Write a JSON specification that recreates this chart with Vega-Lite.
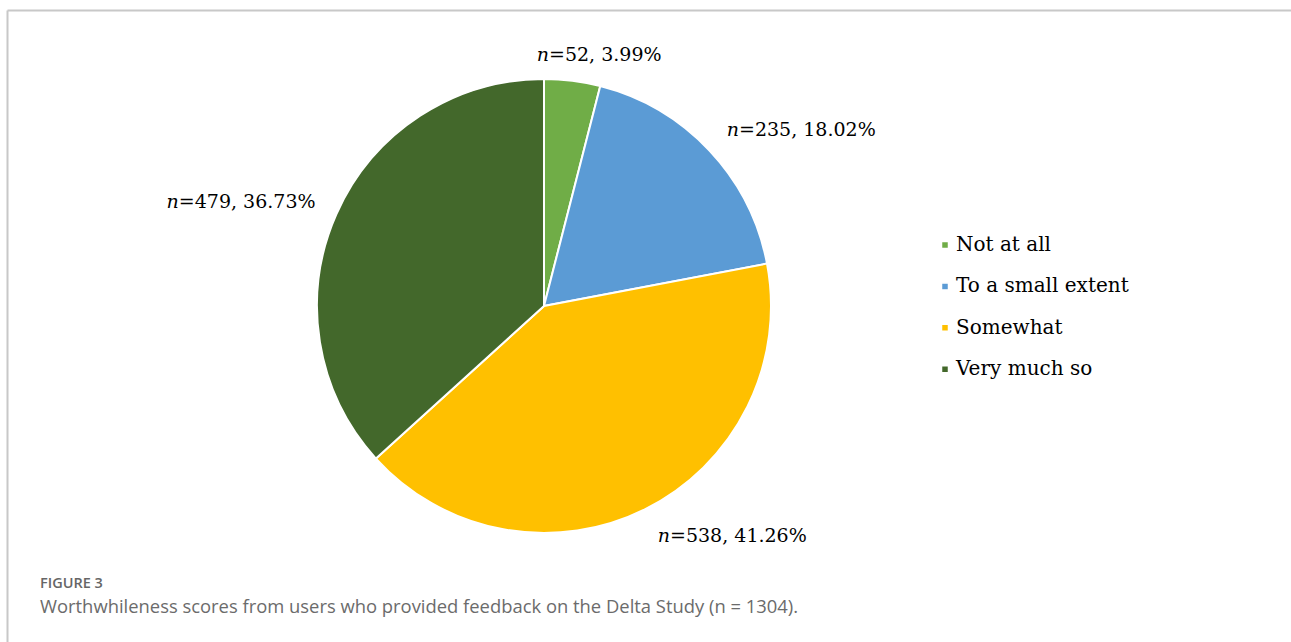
{
  "$schema": "https://vega.github.io/schema/vega-lite/v6.json",
  "width": 454,
  "height": 454,
  "autosize": {"type": "none"},
  "padding": {"left": 317, "top": 79, "right": 520, "bottom": 109},
  "background": "white",
  "config": {"view": {"stroke": null}},
  "title": {
    "text": "FIGURE 3",
    "subtitle": "Worthwhileness scores from users who provided feedback on the Delta Study (n = 1304).",
    "orient": "bottom",
    "anchor": "start",
    "frame": "group",
    "dx": -277,
    "offset": 0,
    "dy": -134,
    "baseline": "top",
    "font": "Open Sans",
    "fontSize": 14.5,
    "fontWeight": 600,
    "color": "#666666",
    "subtitleFont": "Open Sans",
    "subtitleFontSize": 18.4,
    "subtitleColor": "#6b6b6b",
    "subtitlePadding": 6
  },
  "data": {
    "values": [
      {"category": "Not at all", "n": 52, "rank": 1, "label": "=52, 3.99%"},
      {"category": "To a small extent", "n": 235, "rank": 2, "label": "=235, 18.02%"},
      {"category": "Somewhat", "n": 538, "rank": 3, "label": "=538, 41.26%"},
      {"category": "Very much so", "n": 479, "rank": 4, "label": "=479, 36.73%"}
    ]
  },
  "layer": [
    {
      "mark": {"type": "point", "opacity": 0},
      "encoding": {
        "x": {"datum": 0, "type": "quantitative", "scale": {"domain": [0, 1], "range": [-310, 974]},
              "axis": {"orient": "top", "offset": 69, "domainColor": "#c8c8c8", "domainWidth": 2, "ticks": false, "labels": false, "grid": false, "title": null}},
        "y": {"datum": 0, "type": "quantitative", "scale": {"domain": [0, 1], "range": [-69, 563]},
              "axis": {"orient": "left", "offset": 310, "domainColor": "#c8c8c8", "domainWidth": 2, "ticks": false, "labels": false, "grid": false, "title": null}}
      }
    },
    {
      "mark": {"type": "arc", "outerRadius": 227, "stroke": "white", "strokeWidth": 2},
      "encoding": {
        "theta": {"field": "n", "type": "quantitative", "stack": true},
        "order": {"field": "rank", "type": "quantitative"},
        "color": {
          "field": "category", "type": "nominal",
          "scale": {"domain": ["Not at all", "To a small extent", "Somewhat", "Very much so"],
                    "range": ["#70AD47", "#5B9BD5", "#FFC000", "#43682B"]},
          "legend": {"orient": "none", "legendX": 618, "legendY": 156, "title": null, "symbolType": "square", "symbolSize": 49,
                     "labelFont": "DejaVu Serif", "labelFontSize": 20, "labelColor": "#000000", "labelLimit": 400, "rowPadding": 21.4, "labelOffset": 1, "padding": 0}
        }
      }
    },
    {
      "mark": {"type": "text", "radius": 260, "dx": -27.5, "dy": 12.9, "align": "right", "baseline": "alphabetic", "font": "DejaVu Serif", "fontSize": 19, "fontStyle": "italic", "color": "#000000"},
      "encoding": {
        "theta": {"field": "n", "type": "quantitative", "stack": true},
        "order": {"field": "rank", "type": "quantitative"},
        "text": {"condition": {"test": "datum.category === 'Not at all'", "value": "n"}, "value": ""}
      }
    },
    {
      "mark": {"type": "text", "radius": 260, "dx": -27.5, "dy": 12.9, "align": "left", "baseline": "alphabetic", "font": "DejaVu Serif", "fontSize": 19, "color": "#000000"},
      "encoding": {
        "theta": {"field": "n", "type": "quantitative", "stack": true},
        "order": {"field": "rank", "type": "quantitative"},
        "text": {"condition": {"test": "datum.category === 'Not at all'", "field": "label"}, "value": ""}
      }
    },
    {
      "mark": {"type": "text", "radius": 260, "dx": 5.5, "dy": 8.1, "align": "right", "baseline": "alphabetic", "font": "DejaVu Serif", "fontSize": 19, "fontStyle": "italic", "color": "#000000"},
      "encoding": {
        "theta": {"field": "n", "type": "quantitative", "stack": true},
        "order": {"field": "rank", "type": "quantitative"},
        "text": {"condition": {"test": "datum.category === 'To a small extent'", "value": "n"}, "value": ""}
      }
    },
    {
      "mark": {"type": "text", "radius": 260, "dx": 5.5, "dy": 8.1, "align": "left", "baseline": "alphabetic", "font": "DejaVu Serif", "fontSize": 19, "color": "#000000"},
      "encoding": {
        "theta": {"field": "n", "type": "quantitative", "stack": true},
        "order": {"field": "rank", "type": "quantitative"},
        "text": {"condition": {"test": "datum.category === 'To a small extent'", "field": "label"}, "value": ""}
      }
    },
    {
      "mark": {"type": "text", "radius": 260, "dx": 10, "dy": 3.3, "align": "right", "baseline": "alphabetic", "font": "DejaVu Serif", "fontSize": 19, "fontStyle": "italic", "color": "#000000"},
      "encoding": {
        "theta": {"field": "n", "type": "quantitative", "stack": true},
        "order": {"field": "rank", "type": "quantitative"},
        "text": {"condition": {"test": "datum.category === 'Somewhat'", "value": "n"}, "value": ""}
      }
    },
    {
      "mark": {"type": "text", "radius": 260, "dx": 10, "dy": 3.3, "align": "left", "baseline": "alphabetic", "font": "DejaVu Serif", "fontSize": 19, "color": "#000000"},
      "encoding": {
        "theta": {"field": "n", "type": "quantitative", "stack": true},
        "order": {"field": "rank", "type": "quantitative"},
        "text": {"condition": {"test": "datum.category === 'Somewhat'", "field": "label"}, "value": ""}
      }
    },
    {
      "mark": {"type": "text", "radius": 260, "dx": -127.4, "dy": 7.3, "align": "right", "baseline": "alphabetic", "font": "DejaVu Serif", "fontSize": 19, "fontStyle": "italic", "color": "#000000"},
      "encoding": {
        "theta": {"field": "n", "type": "quantitative", "stack": true},
        "order": {"field": "rank", "type": "quantitative"},
        "text": {"condition": {"test": "datum.category === 'Very much so'", "value": "n"}, "value": ""}
      }
    },
    {
      "mark": {"type": "text", "radius": 260, "dx": -127.4, "dy": 7.3, "align": "left", "baseline": "alphabetic", "font": "DejaVu Serif", "fontSize": 19, "color": "#000000"},
      "encoding": {
        "theta": {"field": "n", "type": "quantitative", "stack": true},
        "order": {"field": "rank", "type": "quantitative"},
        "text": {"condition": {"test": "datum.category === 'Very much so'", "field": "label"}, "value": ""}
      }
    }
  ]
}
